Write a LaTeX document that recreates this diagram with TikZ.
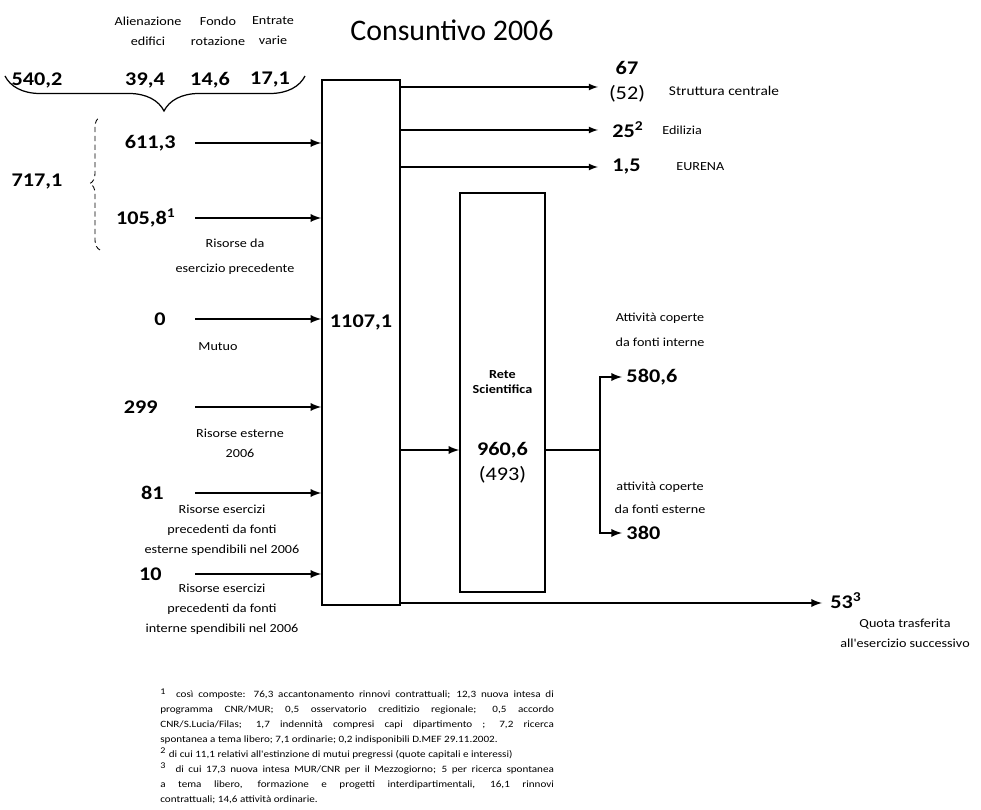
\documentclass[tikz,border=0pt]{standalone}
\usepackage{fontspec}
\setmainfont{Carlito}
\newfontfamily\lbl[FakeStretch=1.15]{Carlito}
\usetikzlibrary{decorations.pathreplacing}

\begin{document}
\begin{tikzpicture}[x=0.02cm, y=-0.02cm,
    flow/.style={->, >=latex, line width=1.1pt},
    outflow/.style={->, >=latex, line width=0.8pt},
    num/.style={font=\lbl\fontsize{11}{13}\selectfont\bfseries, inner sep=0pt},
    note/.style={font=\lbl\fontsize{7}{11.5}\selectfont, align=center, inner sep=0pt},
    bar/.style={draw, line width=0.9pt, inner sep=0pt}]
\useasboundingbox (0,0) rectangle (981,810);

% titolo e voci in alto
\node[font=\fontsize{17}{20}\selectfont, inner sep=0pt] (title) at (452,30) {Consuntivo 2006};
\node[note] (alien) at (148,31) {Alienazione\\edifici};
\node[note] (fondo) at (218,31) {Fondo\\rotazione};
\node[note] (entr) at (273,31) {Entrate\\varie};
\node[num] (v540) at (37,80) {540,2};
\node[num] (v39) at (145,80) {39,4};
\node[num] (v14) at (210,80) {14,6};
\node[num] (v17) at (270,80) {17,1};
\draw[decorate, decoration={brace, mirror, amplitude=0.7cm, aspect=0.53}, line width=0.7pt] (5,76) -- (305,76);

% graffa 717,1
\node[num] (v717) at (37,182) {717,1};
\draw[decorate, decoration={brace, amplitude=0.2cm}, densely dashed, line width=0.5pt] (100,250) -- (100,117);

% barre
\node[bar, minimum width=1.56cm, minimum height=10.5cm] (tot) at (361,342.5) {};
\node[num] (vtot) at (361,322) {1107,1};
\node[bar, minimum width=1.7cm, minimum height=7.98cm] (rete) at (502.5,392.5) {};
\node[font=\lbl\fontsize{7}{9}\selectfont\bfseries, align=center, inner sep=0pt] (retelbl) at (502.5,382) {Rete\\Scientifica};
\node[num] (v960) at (502.5,450) {960,6};
\node[font=\lbl\fontsize{11}{13}\selectfont, inner sep=0pt] (v493) at (502.5,475) {(493)};

% entrate
\node[num, anchor=east] (v611) at (176,143) {611,3};
\node[num, anchor=east] (v105) at (176,218) {105,8\textsuperscript{1}};
\node[num, anchor=east] (v0) at (166,319) {0};
\node[num, anchor=east] (v299) at (158,407) {299};
\node[num, anchor=east] (v81) at (164,493) {81};
\node[num, anchor=east] (v10) at (162,574) {10};
\coordinate (i1) at (195,143);
\coordinate (i2) at (195,218);
\coordinate (i3) at (195,319);
\coordinate (i4) at (195,407);
\coordinate (i5) at (195,493);
\coordinate (i6) at (195,574);
\foreach \i in {1,...,6}
  \draw[flow] (i\i) -- (i\i -| tot.west);
\node[note, font=\lbl\fontsize{7}{14}\selectfont] (prec) at (235,257) {Risorse da\\esercizio precedente};
\node[note] (mutuo) at (218,347) {Mutuo};
\node[note] (est) at (240,443) {Risorse esterne\\2006};
\node[note] (estprec) at (222,530) {Risorse esercizi\\precedenti da fonti\\esterne spendibili nel 2006};
\node[note] (intprec) at (222,609) {Risorse esercizi\\precedenti da fonti\\interne spendibili nel 2006};

% uscite
\coordinate (o1) at (598,87);
\coordinate (o2) at (598,130);
\coordinate (o3) at (598,167);
\foreach \i in {1,2,3}
  \draw[outflow] (o\i -| tot.east) -- (o\i);
\node[num] (v67) at (627,68) {67};
\node[font=\lbl\fontsize{11}{13}\selectfont, inner sep=0pt] (v52) at (627,94) {(52)};
\node[num, anchor=west] (v25) at (612,130) {25\textsuperscript{2}};
\node[num, anchor=west] (v15) at (612,167) {1,5};
\node[note, font=\lbl\fontsize{7.6}{11.5}\selectfont] (strutt) at (724,91) {Struttura centrale};
\node[note, anchor=west] (edil) at (662,130) {Edilizia};
\node[note, anchor=west] (eur) at (676,167) {EURENA};

% rete scientifica
\coordinate (r1) at (400,450);
\draw[flow] (r1) -- (r1 -| rete.west);
\coordinate (s0) at (600,450);
\coordinate (s1) at (600,377);
\coordinate (s2) at (600,533);
\draw[line width=0.8pt] (rete.east |- s0) -- (s0);
\draw[flow] (s0) -- (s1) -- ++(22,0) node[num, anchor=west, inner sep=2pt] (v580) {580,6};
\draw[flow] (s0) -- (s2) -- ++(22,0) node[num, anchor=west, inner sep=2pt] (v380) {380};
\node[note, font=\lbl\fontsize{7}{14}\selectfont] (intlbl) at (660,330) {Attività coperte\\da fonti interne};
\node[note, font=\lbl\fontsize{7}{13}\selectfont] (estlbl) at (660,498) {attività coperte\\da fonti esterne};

% quota trasferita
\coordinate (q) at (822,603);
\draw[flow] (q -| tot.east) -- (q);
\node[num, anchor=west] (v53) at (830,601) {53\textsuperscript{3}};
\node[note] (quota) at (905,633) {Quota trasferita\\all'esercizio successivo};

% note
\node[anchor=north west, text width=224pt, align=justify, inner sep=0pt,
      font=\lbl\fontsize{5.5}{8.5}\selectfont] (fn) at (160,688) {\hyphenpenalty=10000\relax
{\tiny\textsuperscript{1}}\ \ così composte: 76,3 accantonamento rinnovi contrattuali; 12,3 nuova intesa di\linebreak
programma CNR/MUR; 0,5 osservatorio creditizio regionale; 0,5 accordo\linebreak
CNR/S.Lucia/Filas; 1,7 indennità compresi capi dipartimento ; 7,2 ricerca\linebreak
spontanea a tema libero; 7,1 ordinarie; 0,2 indisponibili D.MEF 29.11.2002.\par
{\tiny\textsuperscript{2}}\ di cui 11,1 relativi all'estinzione di mutui pregressi (quote capitali e interessi)\par
{\tiny\textsuperscript{3}}\ \ di cui 17,3 nuova intesa MUR/CNR per il Mezzogiorno; 5 per ricerca spontanea\linebreak
a tema libero, formazione e progetti interdipartimentali, 16,1 rinnovi\linebreak
contrattuali; 14,6 attività ordinarie.};
\end{tikzpicture}
\end{document}
